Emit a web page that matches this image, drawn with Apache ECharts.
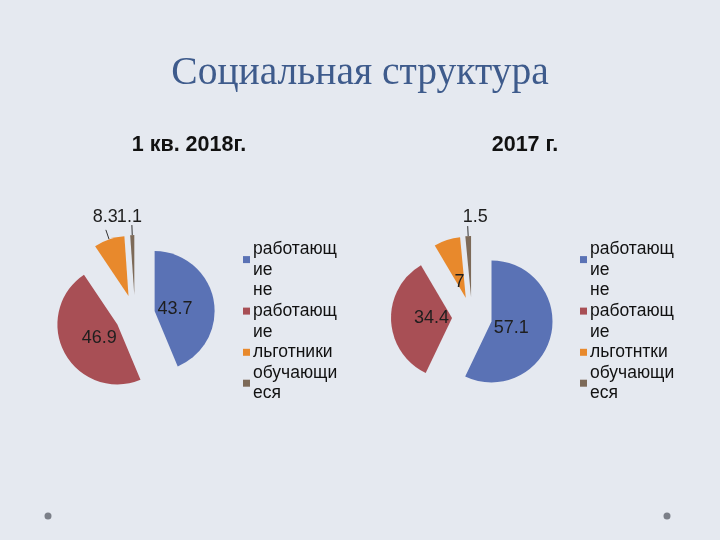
<!DOCTYPE html>
<html><head><meta charset="utf-8">
<script src="https://cdn.jsdelivr.net/npm/echarts@6/dist/echarts.min.js"></script>
<style>html,body{margin:0;padding:0;background:#e5e9f0;} #c{width:720px;height:540px;}</style>
</head><body><div id="c"></div>
<script>
const categories2018 = ['работающие', 'не работающие', 'льготники', 'обучающиеся'];
const categories2017 = ['работающие', 'не работающие', 'льготнтки', 'обучающиеся'];
const values2018 = [43.7, 46.9, 8.3, 1.1];
const values2017 = [57.1, 34.4, 7, 1.5];
const legendText = {
  'работающие': 'работающ\nие',
  'не работающие': 'не\nработающ\nие',
  'льготники': 'льготники',
  'льготнтки': 'льготнтки',
  'обучающиеся': 'обучающи\nеся'
};
const colors = ['#5a72b5', '#a84f55', '#e8892c', '#7d6a58'];
const outside2018 = [false, false, true, true];
const outside2017 = [false, false, false, true];
// label nudges (style only)
const nudge2018 = [[-12, 4], [11, -2], [17, -13], [15, -8]];
const nudge2017 = [[-13, -1], [13, -1], [4, 16], [25, -9]];

function buildData(cats, vals, outside) {
  return cats.map((c, i) => ({
    name: c, value: vals[i], selected: true,
    itemStyle: { color: colors[i] },
    label: outside[i] ? { position: 'outside' } : { position: 'inside' },
    labelLine: { show: outside[i], length: 10, length2: 0, lineStyle: { color: '#333', width: 1 } }
  }));
}

const chart = echarts.init(document.getElementById('c'));
const labelStyle = { show: true, color: '#1e1e1e', fontSize: 18, fontFamily: 'Liberation Sans', formatter: '{c}' };
const legendCommon = {
  orient: 'vertical', itemWidth: 7, itemHeight: 7, itemGap: 0, icon: 'rect',
  selectedMode: false,
  textStyle: { fontSize: 17.5, lineHeight: 20.6, color: '#111', fontFamily: 'Liberation Sans', padding: [0, 0, 0, -2] },
  formatter: n => legendText[n]
};
function layoutFor(nudges) {
  return function (p) {
    const n = nudges[p.dataIndex];
    return { dx: n[0], dy: n[1], hideOverlap: false, moveOverlap: null };
  };
}
chart.setOption({
  backgroundColor: '#e5e9f0',
  animation: false,
  title: [
    { text: 'Социальная структура', left: 'center', top: 49,
      textStyle: { fontFamily: 'Liberation Serif', fontWeight: 'normal', fontSize: 39.5, color: '#3e5b8c' } },
    { text: '1 кв. 2018г.', left: 184, top: 129, textAlign: 'center',
      textStyle: { fontFamily: 'Liberation Sans', fontWeight: 'bold', fontSize: 21.5, color: '#111' } },
    { text: '2017 г.', left: 520, top: 129, textAlign: 'center',
      textStyle: { fontFamily: 'Liberation Sans', fontWeight: 'bold', fontSize: 21.5, color: '#111' } }
  ],
  legend: [
    Object.assign({ left: 238, top: 234, data: categories2018 }, legendCommon),
    Object.assign({ left: 575, top: 234, data: categories2017 }, legendCommon)
  ],
  series: [
    { type: 'pie', center: [135, 315], radius: 60, selectedMode: 'multiple', selectedOffset: 20,
      avoidLabelOverlap: false, label: labelStyle, emphasis: { disabled: true },
      labelLayout: layoutFor(nudge2018),
      data: buildData(categories2018, values2018, outside2018) },
    { type: 'pie', center: [472, 317], radius: 61, selectedMode: 'multiple', selectedOffset: 20,
      avoidLabelOverlap: false, label: labelStyle, emphasis: { disabled: true },
      labelLayout: layoutFor(nudge2017),
      data: buildData(categories2017, values2017, outside2017) }
  ],
  graphic: [
    { type: 'circle', shape: { cx: 48, cy: 516, r: 3.5 }, style: { fill: '#7b7f88' } },
    { type: 'circle', shape: { cx: 667, cy: 516, r: 3.5 }, style: { fill: '#7b7f88' } }
  ]
});
</script></body></html>
